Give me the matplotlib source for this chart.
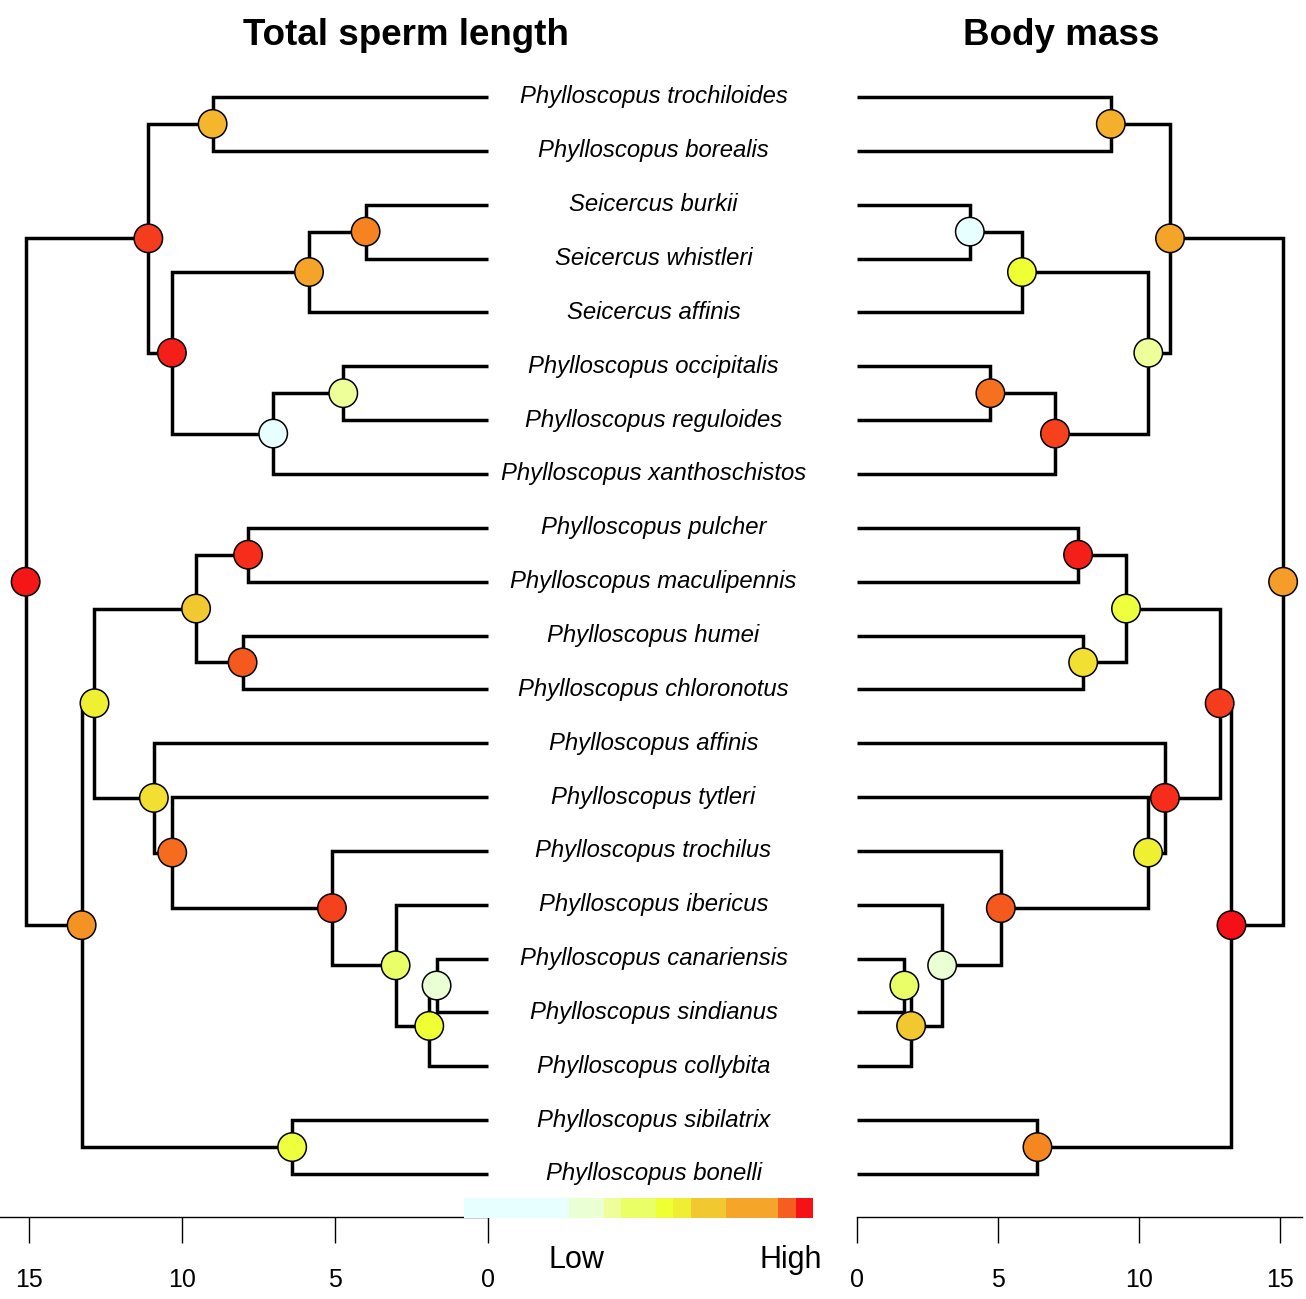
import matplotlib
matplotlib.use("Agg")
import matplotlib.pyplot as plt
from matplotlib.colors import LinearSegmentedColormap, to_rgb
import numpy as np

plt.rcParams['font.family'] = ['Liberation Sans', 'DejaVu Sans']

# ---------------- data ----------------
species = [
    "Phylloscopus trochiloides", "Phylloscopus borealis", "Seicercus burkii",
    "Seicercus whistleri", "Seicercus affinis", "Phylloscopus occipitalis",
    "Phylloscopus reguloides", "Phylloscopus xanthoschistos", "Phylloscopus pulcher",
    "Phylloscopus maculipennis", "Phylloscopus humei", "Phylloscopus chloronotus",
    "Phylloscopus affinis", "Phylloscopus tytleri", "Phylloscopus trochilus",
    "Phylloscopus ibericus", "Phylloscopus canariensis", "Phylloscopus sindianus",
    "Phylloscopus collybita", "Phylloscopus sibilatrix", "Phylloscopus bonelli",
]

# internal nodes (children listed before parents); ints = tip index
node_names  = ["F", "D", "G", "E", "C", "A", "B", "L", "M", "K",
               "S", "R", "Q", "P", "O", "N", "I", "J", "H", "Root"]
node_child1 = [2, "F", 5, "G", "D", 0, "A", 8, 10, "L",
               16, "S", 15, 14, 13, 12, "K", 19, "I", "B"]
node_child2 = [3, 4, 6, 7, "E", 1, "C", 9, 11, "M",
               17, 18, "R", "Q", "P", "O", "N", 20, "J", "H"]
node_age    = [4.0, 5.85, 4.73, 7.02, 10.33, 9.0, 11.1, 7.84, 8.02, 9.54,
               1.68, 1.92, 3.02, 5.1, 10.32, 10.92, 12.86, 6.4, 13.28, 15.11]

# reconstructed ancestral states, scaled 0 (low) .. 1 (high)
sperm_values = [0.81, 0.72, 0.25, 0.0, 0.98, 0.67, 0.94, 0.96, 0.90, 0.62,
                0.12, 0.45, 0.35, 0.93, 0.86, 0.56, 0.51, 0.43, 0.77, 0.99]
mass_values  = [0.0, 0.45, 0.85, 0.93, 0.25, 0.69, 0.72, 0.98, 0.56, 0.43,
                0.35, 0.62, 0.12, 0.90, 0.51, 0.96, 0.94, 0.80, 1.0, 0.74]

ramp_pos    = [0.0, 0.12, 0.25, 0.35, 0.45, 0.52, 0.62, 0.72, 0.82, 0.90, 1.0]
ramp_colors = ["#E8FFFF", "#EAFFD2", "#EEFF99", "#EAFF66", "#EEFF33", "#F0EE33",
               "#F2C830", "#F5A52A", "#F5801F", "#F55A1E", "#F51018"]

legend_colors = (["#E8FFFF"] * 6 + ["#EAFFD4"] * 2 + ["#EEFF99"] + ["#EAFF66"] * 2 +
                 ["#EEFF33"] + ["#F0EE33"] + ["#F2C830"] * 2 + ["#F5A52A"] * 3 +
                 ["#F55E1E"] + ["#F51118"])

ticks = [0, 5, 10, 15]

cmap = LinearSegmentedColormap.from_list("trait", list(zip(ramp_pos, ramp_colors)))

# ---------------- layout ----------------
W, H = 1306, 1299
fig = plt.figure(figsize=(W / 100, H / 100), dpi=100)


def rect(x0, ytop, x1, ybot):
    return [x0 / W, 1 - ybot / H, (x1 - x0) / W, (ybot - ytop) / H]


TIP0, DY = 97.0, 53.85
AX_TOP, AX_BOT = 60.0, 1217.0
ylim = ((AX_BOT - TIP0) / DY, (AX_TOP - TIP0) / DY)

axL = fig.add_axes(rect(0, AX_TOP, 488, AX_BOT))
axR = fig.add_axes(rect(857, AX_TOP, 1302, AX_BOT))
axL.set_xlim(488 / 30.6, 0)
axR.set_xlim(0, 445 / 28.2)


def tree_coords():
    xs = {i: 0.0 for i in range(len(species))}
    ys = {i: float(i) for i in range(len(species))}
    for nm, c1, c2, age in zip(node_names, node_child1, node_child2, node_age):
        xs[nm] = age
        ys[nm] = (ys[c1] + ys[c2]) / 2
    return xs, ys


def draw_tree(ax, values):
    xs, ys = tree_coords()
    for nm, c1, c2 in zip(node_names, node_child1, node_child2):
        ax.plot([xs[c1], xs[nm], xs[nm], xs[c2]],
                [ys[c1], ys[c1], ys[c2], ys[c2]],
                color="black", lw=2.5, solid_joinstyle="miter",
                solid_capstyle="butt", zorder=2, clip_on=False)
    ax.scatter([xs[n] for n in node_names], [ys[n] for n in node_names],
               s=20.5 ** 2, c=[cmap(v) for v in values], edgecolors="black",
               linewidths=1.1, zorder=3, clip_on=False)
    ax.set_ylim(*ylim)
    for side in ("top", "left", "right"):
        ax.spines[side].set_visible(False)
    ax.spines["bottom"].set_linewidth(1.0)
    ax.set_yticks([])
    ax.set_xticks(ticks)
    ax.set_xticklabels([str(t) for t in ticks])
    ax.tick_params(axis="x", direction="out", length=18.5, width=1.0,
                   pad=18, labelsize=18)
    ax.set_facecolor("none")


draw_tree(axL, sperm_values)
draw_tree(axR, mass_values)

# species labels in the middle
axM = fig.add_axes(rect(488, AX_TOP, 857, AX_BOT))
axM.set_xlim(488, 857)
axM.set_ylim(*ylim)
axM.axis("off")
for i, sp in enumerate(species):
    axM.text(653.5, i + 0.12, sp, ha="center", va="baseline",
             fontsize=17.2, style="italic")

# titles
fig.text(406 / W, 1 - 45 / H, "Total sperm length", ha="center", va="baseline",
         fontsize=26.5, fontweight="bold")
fig.text(1061 / W, 1 - 45 / H, "Body mass", ha="center", va="baseline",
         fontsize=26.5, fontweight="bold")

# colour legend
axLeg = fig.add_axes(rect(464, 1198, 813, 1217.5))
axLeg.imshow([[to_rgb(c) for c in legend_colors]], aspect="auto",
             extent=(0, len(legend_colors), 0, 1), interpolation="nearest")
axLeg.axis("off")
fig.text(576 / W, 1 - 1268 / H, "Low", ha="center", va="baseline", fontsize=22)
fig.text(791 / W, 1 - 1268 / H, "High", ha="center", va="baseline", fontsize=22)

fig.savefig("out.png", dpi=100, facecolor="white")
